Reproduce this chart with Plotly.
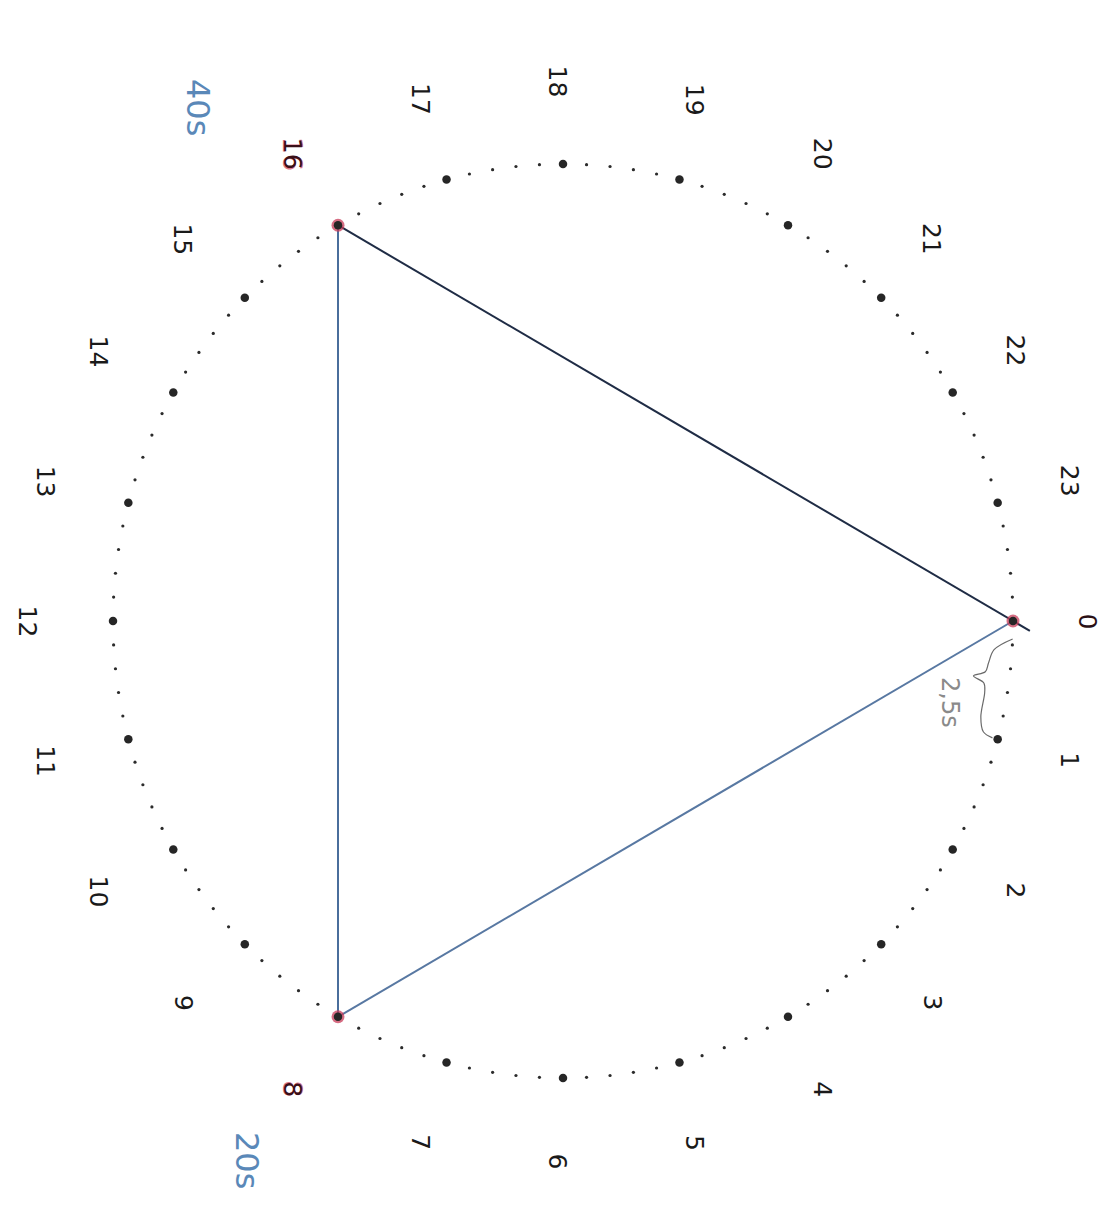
import numpy as np
import plotly.graph_objects as go

# ---- data ----
hours = list(range(24))                 # big numbered dots
hour_labels = [str(h) for h in hours]
subdivisions = 5                        # 4 small dots between numbered ones
triangle_hours = [16, 0, 8, 16]         # vertices of the triangle
marked_hours = [0, 8, 16]               # hours marked in red
notes = ["40s", "20s", "2,5s"]          # handwritten notes

# ---- geometry (page pixels -> unit circle) ----
W, H = 1113, 1214
BODY = 8                                 # default html body margin
FW, FH = W - 2 * BODY, H - 2 * BODY
cx, cy, sx, sy = 563.0 - BODY, 621.0 - BODY, 450.0, 457.0
xr = [-cx / sx, (FW - cx) / sx]
yr = [-(FH - cy) / sy, cy / sy]


def pos(h, rx=1.0, ry=None, dx=0.0):
    ry = rx if ry is None else ry
    a = np.deg2rad(-15.0 * np.asarray(h, dtype=float))
    return dx + rx * np.cos(a), ry * np.sin(a)


fig = go.Figure()

# small dots
fine = [i / subdivisions for i in range(24 * subdivisions) if i % subdivisions]
fx, fy = pos(fine)
fig.add_trace(go.Scatter(x=fx, y=fy, mode="markers",
                         marker=dict(size=3.2, color="#2b2b2b"), hoverinfo="skip"))

# triangle edges (the first pen stroke runs slightly past the vertex at 0)
edge_colors = ["#1f2c45", "#5878a2", "#4a6e9c"]
edge_overshoot = [0.025, 0.0, 0.0]
for i in range(3):
    hx, hy = pos(triangle_hours[i:i + 2])
    ex = hx[1] + (hx[1] - hx[0]) * edge_overshoot[i]
    ey = hy[1] + (hy[1] - hy[0]) * edge_overshoot[i]
    fig.add_trace(go.Scatter(x=[hx[0], ex], y=[hy[0], ey], mode="lines",
                             line=dict(color=edge_colors[i], width=2), hoverinfo="skip"))

# red halo on marked dots
mx, my = pos(marked_hours)
fig.add_trace(go.Scatter(x=mx, y=my, mode="markers",
                         marker=dict(size=13, color="rgba(200,60,90,0.75)"), hoverinfo="skip"))

# big dots
bx, by = pos(hours)
fig.add_trace(go.Scatter(x=bx, y=by, mode="markers",
                         marker=dict(size=8.5, color="#262626"), hoverinfo="skip"))

# brace between hour 0 and hour 1
brace_a = [0.15, 0.25, 0.37, 0.45, 0.5, 0.55, 0.63, 0.85, 0.97, 1.0]
brace_r = [1.0, 0.96, 0.95, 0.945, 0.92, 0.945, 0.95, 0.952, 0.965, 0.988]
brx, bry = pos(brace_a, np.array(brace_r))
fig.add_trace(go.Scatter(x=brx, y=bry, mode="lines",
                         line=dict(color="#6a6a6a", width=1.2, shape="spline"),
                         hoverinfo="skip"))

# hour labels (rotated like the scanned page)
lx, ly = pos(hours, 530 / sx, 540 / sy, dx=-5.5 / sx)
for h, x, y, t in zip(hours, lx, ly, hour_labels):
    if h in (8, 16):
        fig.add_annotation(x=x, y=y, text=t, showarrow=False, textangle=90,
                           xanchor="center", yanchor="middle",
                           font=dict(family="DejaVu Sans", size=27, color="rgba(205,80,105,0.8)"))
        col = "#3a1018"
    elif h == 0:
        col = "#2a1015"
    else:
        col = "#1a1a1a"
    fig.add_annotation(x=x, y=y, text=t, showarrow=False, textangle=90,
                       xanchor="center", yanchor="middle",
                       font=dict(family="DejaVu Sans", size=25, color=col))

# handwritten notes (page pixel centres)
note_px = [(198, 107), (247, 1160), (950, 702)]
note_col = ["#5a88b8", "#5a88b8", "#8a8a8a"]
note_size = [32, 32, 24]
for t, (px, py), c, s in zip(notes, note_px, note_col, note_size):
    fig.add_annotation(x=(px - BODY) / FW, y=1 - (py - BODY) / FH,
                       xref="paper", yref="paper", text=t,
                       showarrow=False, textangle=90,
                       xanchor="center", yanchor="middle",
                       font=dict(family="DejaVu Sans", size=s, color=c))

fig.update_layout(
    width=FW, height=FH, margin=dict(l=0, r=0, t=0, b=0),
    paper_bgcolor="white", plot_bgcolor="white", showlegend=False,
    xaxis=dict(range=xr, visible=False, fixedrange=True),
    yaxis=dict(range=yr, visible=False, fixedrange=True),
)

fig.write_html("out.html")
